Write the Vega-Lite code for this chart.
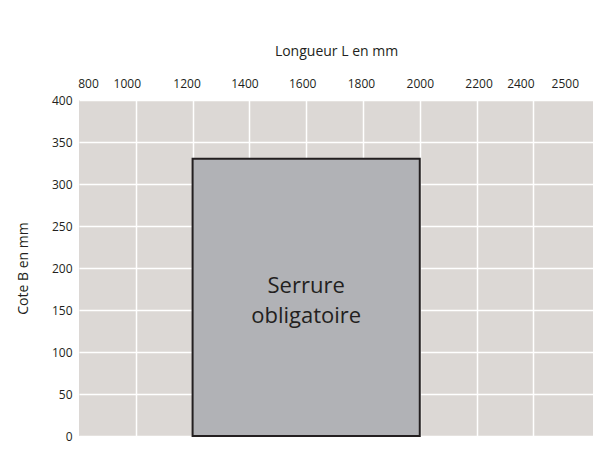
{
  "$schema": "https://vega.github.io/schema/vega-lite/v6.json",
  "width": 514,
  "height": 336,
  "autosize": "none",
  "padding": {"left": 79, "top": 100, "right": 7, "bottom": 34},
  "background": "#ffffff",
  "config": {
    "font": "Open Sans",
    "view": {"fill": "#dcd8d5", "stroke": null},
    "axis": {"labelFont": "Open Sans", "titleFont": "Open Sans", "labelColor": "#231f20", "titleColor": "#231f20", "titleFontWeight": "normal"}
  },
  "datasets": {
    "zone": [{"l_min": 1200, "l_max": 2000, "b_min": 0, "b_max": 330, "label": "Serrure\nobligatoire", "l_mid": 1600, "b_mid": 178}]
  },
  "data": {"name": "zone"},
  "layer": [
    {
      "mark": {"type": "rect", "fill": "#b1b2b6", "stroke": "#231f20", "strokeWidth": 2},
      "encoding": {
        "x": {
          "field": "l_min", "type": "quantitative",
          "scale": {"domain": [800, 2610], "nice": false, "zero": false},
          "axis": {
            "orient": "top",
            "title": "Longueur L en mm",
            "titleFontSize": 14,
            "titlePadding": 19,
            "values": [800, 1000, 1200, 1400, 1600, 1800, 2000, 2200, 2400, 2500],
            "format": "d",
            "labelFontSize": 12,
            "labelPadding": 10,
            "ticks": false,
            "tickSize": 0,
            "domain": false,
            "grid": true,
            "gridColor": "#ffffff",
            "gridWidth": 1.5,
            "gridOpacity": {"condition": {"test": "datum.value == 800 || datum.value == 2500", "value": 0}, "value": 1},
            "labelFlush": false,
            "labelOverlap": false,
            "labelOffset": {
              "condition": [
                {"test": "datum.value == 800", "value": 9},
                {"test": "datum.value == 1000", "value": -9},
                {"test": "datum.value == 1200", "value": -6},
                {"test": "datum.value == 1400", "value": -5},
                {"test": "datum.value == 1600", "value": -4},
                {"test": "datum.value == 1800", "value": -2},
                {"test": "datum.value == 2200", "value": 2},
                {"test": "datum.value == 2400", "value": -13},
                {"test": "datum.value == 2500", "value": 3}
              ],
              "value": 0
            }
          }
        },
        "x2": {"field": "l_max"},
        "y": {
          "field": "b_min", "type": "quantitative",
          "scale": {"domain": [0, 400], "nice": false},
          "axis": {
            "title": "Cote B en mm",
            "titleFontSize": 14,
            "titlePadding": 21,
            "values": [0, 50, 100, 150, 200, 250, 300, 350, 400],
            "labelFontSize": 12,
            "labelPadding": 7,
            "ticks": false,
            "tickSize": 0,
            "domain": false,
            "grid": true,
            "gridColor": "#ffffff",
            "gridWidth": 1.5,
            "labelFlush": false,
            "labelOverlap": false
          }
        },
        "y2": {"field": "b_max"}
      }
    },
    {
      "mark": {"type": "text", "fontSize": 22, "color": "#231f20", "lineBreak": "\n", "lineHeight": 30, "align": "center", "baseline": "middle"},
      "encoding": {
        "x": {"field": "l_mid", "type": "quantitative"},
        "y": {"field": "b_mid", "type": "quantitative"},
        "text": {"field": "label"}
      }
    }
  ]
}
